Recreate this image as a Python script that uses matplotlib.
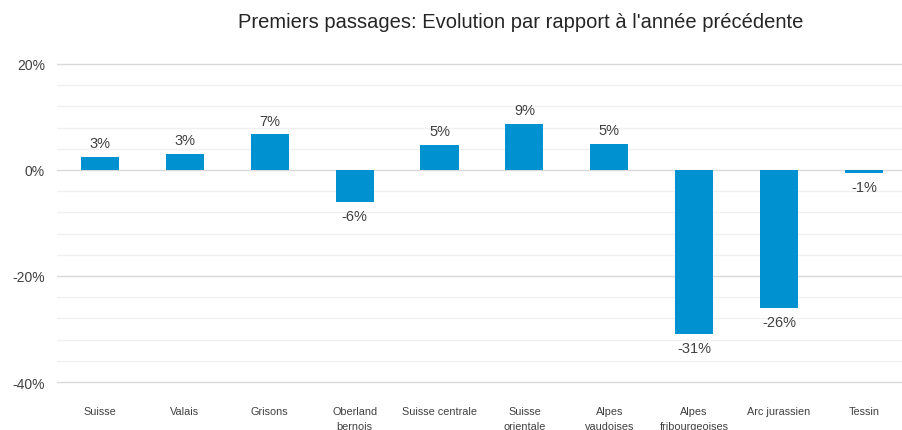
import numpy as np
import matplotlib.pyplot as plt
from matplotlib.ticker import MultipleLocator, FuncFormatter

plt.rcParams['font.family'] = ['Liberation Sans', 'DejaVu Sans']

regions = ['Suisse', 'Valais', 'Grisons', 'Oberland\nbernois', 'Suisse centrale',
           'Suisse\norientale', 'Alpes\nvaudoises', 'Alpes\nfribourgeoises',
           'Arc jurassien', 'Tessin']
evolution = [2.5, 3.1, 6.7, -6.0, 4.7, 8.7, 4.9, -30.9, -26.0, -0.6]   # en %
etiquettes = ['3%', '3%', '7%', '-6%', '5%', '9%', '5%', '-31%', '-26%', '-1%']

fig = plt.figure(figsize=(9.03, 4.31), dpi=100)
# 20% a y=65 px, -40% a y=383 px
ax = fig.add_axes([57.5 / 903, (431 - 384.6) / 431, 1 - 57.5 / 903, 320.7 / 431])

x = np.arange(len(regions))
ax.bar(x, evolution, width=0.45, color='#0091D0', zorder=3)

for xi, v, lab in zip(x, evolution, etiquettes):
    off = 5 if v >= 0 else -5
    ax.annotate(lab, (xi, v), xytext=(0, off), textcoords='offset points',
                ha='center', va='bottom' if v >= 0 else 'top',
                fontsize=10.5, color='#404040')

ax.set_ylim(-40.3, 20.2)
ax.set_xlim(-0.5, 9.46)
ax.yaxis.set_major_locator(MultipleLocator(20))
ax.yaxis.set_minor_locator(MultipleLocator(4))
ax.yaxis.set_major_formatter(FuncFormatter(lambda v, p: f'{v:.0f}%'))
ax.grid(axis='y', which='major', color='#d9d9d9', lw=1.0, zorder=0)
ax.grid(axis='y', which='minor', color='#f0f0f0', lw=1.0, zorder=0)
for s in ax.spines.values():
    s.set_visible(False)
ax.tick_params(axis='y', which='both', length=0, pad=9, labelsize=10, labelcolor='#404040')
ax.tick_params(axis='x', length=0, pad=16, labelsize=7.8, labelcolor='#404040')
ax.set_xticks(x)
ax.set_xticklabels(regions, linespacing=1.6)

fig.text(521 / 903, 1 - 22 / 431, "Premiers passages: Evolution par rapport à l'année précédente",
         ha='center', va='center', fontsize=14.5, color='#262626')

fig.savefig('out.png', dpi=100)
